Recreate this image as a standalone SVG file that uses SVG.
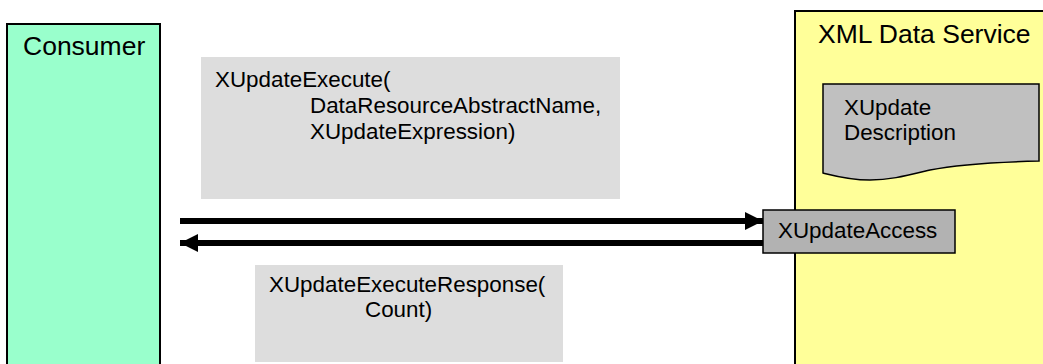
<svg xmlns="http://www.w3.org/2000/svg" width="1043" height="364" viewBox="0 0 1043 364">
<style>
text{font-family:"Liberation Sans",Arial,sans-serif;fill:#000}
.big{font-size:26.5px}
.t{font-size:22.4px}
.conn{stroke:#000;stroke-width:6;fill:none}
</style>
<defs>
<marker id="ah" markerUnits="userSpaceOnUse" markerWidth="18" markerHeight="18" refX="18" refY="9" orient="auto">
<path d="M0,0 L18,9 L0,18 z" fill="#000"/>
</marker>
</defs>
<rect width="1043" height="364" fill="#fff"/>
<g id="consumer">
<rect x="7" y="24" width="153" height="350" fill="#99ffcc" stroke="#000" stroke-width="2"/>
<text class="big" x="23" y="55">Consumer</text>
</g>
<g id="xml-data-service">
<rect x="795" y="11" width="260" height="370" fill="#ffff99" stroke="#000" stroke-width="2"/>
<text class="big" x="818" y="43">XML Data Service</text>
</g>
<g id="xupdate-description">
<path d="M823,84 L1039,84 L1039,161 C1000,162 960,164 930,170 C905,176 890,180 870,180 C850,180 835,176 823,173 Z" fill="#c0c0c0" stroke="#000" stroke-width="1.5"/>
<text class="t" x="844" y="115">XUpdate</text>
<text class="t" x="844" y="140">Description</text>
</g>
<g id="request-label">
<rect x="201" y="57" width="419" height="142" fill="#dddddd"/>
<text class="t" x="215" y="87">XUpdateExecute(</text>
<text class="t" x="310" y="113">DataResourceAbstractName,</text>
<text class="t" x="310" y="139">XUpdateExpression)</text>
</g>
<g id="response-label">
<rect x="255" y="265" width="308" height="97" fill="#dddddd"/>
<text class="t" x="269" y="292">XUpdateExecuteResponse(</text>
<text class="t" x="365" y="317">Count)</text>
</g>
<g id="connectors">
<line class="conn" x1="180" y1="221" x2="763" y2="221" marker-end="url(#ah)"/>
<line class="conn" x1="763" y1="243" x2="180" y2="243" marker-end="url(#ah)"/>
</g>
<g id="xupdate-access">
<rect x="763" y="210" width="192" height="43" fill="#b2b2b2" stroke="#000" stroke-width="1.5"/>
<text class="t" x="778" y="238">XUpdateAccess</text>
</g>
</svg>
